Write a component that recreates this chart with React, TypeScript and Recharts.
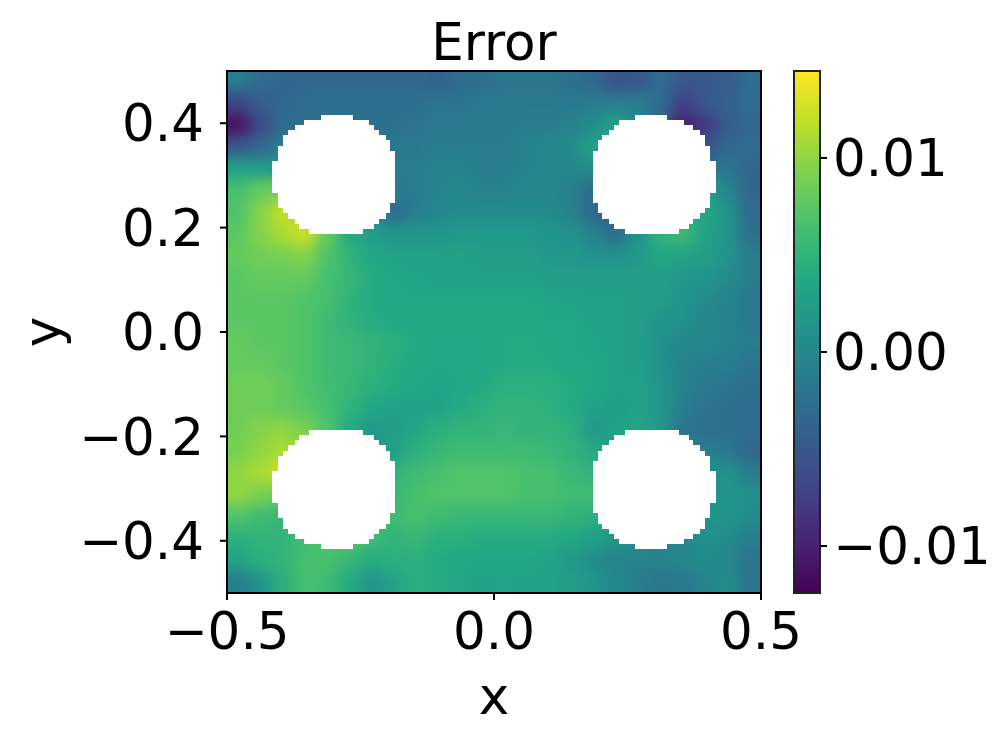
import { ScatterChart, Scatter, XAxis, YAxis, ReferenceArea, Label } from 'recharts'

// error values in units of 1e-3, top row first
const errorRows = [
  [-1, -3, -3.5, -3.5, -3.5, -3.5, -3.5, -3.5, -3.5, -4, -3, -2.5, -2, -2, -2, -2.5, -3.5, -5.5, -5, -3, -5, -5, -4.5, -3],
  [-7, -4.5, -3.5, -3, -2.5, -2.5, -2.5, -2.5, -2.5, -2, -2, -1.5, -1.5, -1.5, -1.5, -1.5, -1, -1, -1, -3, -7.5, -5, -4, -3],
  [-11, -6.5, -3, -3, -2.5, -2.5, -2.5, -2.5, -2, -1.5, -1.5, -1.5, -1.5, -1, -1, -0.5, 0.5, 3, 0, -4, -10, -8, -4.5, -3.5],
  [-5, -3.5, -1, -1, -1, -1.5, -1.5, -1.5, -1.5, -1, -1, -1, -1, -0.5, 0, 0.5, 3, 3, 0, -3, -8, -5.5, -3.5, -3],
  [3, 2.5, 1, 0, 0, -1, -1, -1, -1, -0.5, -0.5, -1, -1, -0.5, 0, 0, 0.5, 0, 0, 0, -3, -2, -2, -3.5],
  [6.5, 8, 9, 6, 3, 0, -1, -1.5, -1, -0.5, 0, -0.5, -0.5, 0, 0, -1, -3, -2, 0, 1, 2, 3, 0, -3.5],
  [7, 9.5, 12, 11, 6, 2, 0, -3, -1, 0, 0.5, 0.5, 0.5, 0.5, 0.5, -0.5, -3.5, -5, -1, 2, 4, 3.5, 1.5, -3],
  [7.5, 9.5, 11, 12.5, 8, 4, 2.5, 1.5, 1.5, 1.5, 2, 2, 2, 2, 1.5, 1, -0.5, -3, 1, 5, 6, 3, 1.5, -2.5],
  [8, 8.5, 9, 9.5, 7, 5, 3.5, 3, 3, 3, 3, 2.5, 2.5, 2.5, 2, 2, 1, 1, 2, 3.5, 3, 2.5, 1.5, -1],
  [7.5, 8, 8, 8, 6.5, 5.5, 4, 3.5, 3.2, 3, 3, 3, 3, 3, 2.5, 2.5, 2.5, 2.5, 2.5, 2.5, 2, 1.5, 0.5, -1],
  [7.5, 7.5, 7.5, 7, 6.5, 5, 4, 3.5, 3.5, 3.5, 3.5, 3.5, 3.5, 3.5, 3.2, 3, 3, 3, 2.5, 2.5, 1.5, 0.5, -0.5, -1.5],
  [7.5, 7.5, 7.5, 7, 6, 5, 4.2, 3.8, 3.8, 3.8, 3.8, 3.8, 3.8, 3.8, 3.5, 3.5, 3, 3, 2.5, 1.5, 1, 0, -0.5, -1.5],
  [8, 7.5, 7.5, 7, 6, 5.5, 5, 4.5, 4, 3.5, 3.5, 3.5, 4, 4, 3.8, 3.5, 3.2, 3, 2.5, 1, 0, 0, -0.5, -1],
  [8, 8, 7.5, 7, 6, 5.5, 5, 4.2, 3.8, 3.5, 3.5, 3.5, 4, 4, 4, 3.5, 3.5, 3, 2.5, 1, -0.5, -1, -1, -2],
  [8.5, 8.5, 8, 7, 6.2, 5.5, 4.5, 4, 3.5, 3.2, 3.5, 4, 4.5, 4.5, 4.5, 4, 3.5, 3, 3, 1.5, -0.5, -1.5, -2, -2.5],
  [8.5, 8.5, 8, 7.5, 6.5, 5, 3.5, 3, 3, 3, 4, 4.5, 5, 5, 4.5, 4, 3, 2.5, 3, 1.5, -1, -2, -2.5, -3],
  [8.5, 9.5, 10, 9, 7, 4, 2, 2.5, 3.5, 4.5, 5, 5, 5.5, 5, 5, 4.5, 2, 3, 3.5, 2, -2, -2.5, -2.5, -3],
  [9, 10, 11, 10, 7, 4, 2, 2.5, 4.5, 5.5, 6, 6, 6, 6, 5.5, 5, 4, 2.5, 2, 1, 0, -1, -1.5, -3.5],
  [10, 11, 12.5, 10, 7, 5, 4, 5, 6, 6.5, 7, 7, 7, 6.5, 6.5, 5.5, 5, 6, 3, 2, 1, 1, 1, -1],
  [10, 9, 8, 8, 7, 6, 5, 5.5, 6.5, 7, 7, 7, 7, 6.5, 6.5, 6, 6, 7, 4, 2, 1, 1, 1.5, 1],
  [7, 6, 5.5, 6, 7, 7, 6, 6, 6.5, 6, 5.5, 5.5, 5.5, 5.5, 5.5, 5, 4.5, 4, 2, 1, 1, 1.5, 1.5, 0.5],
  [4.5, 5, 5, 6, 7, 7.5, 6, 5, 5.5, 4.5, 4.5, 4, 4, 4, 4, 3.5, 2.5, 1.5, 0.5, 0, 0, 1, 0.5, -1],
  [3, 4.5, 5, 6.5, 6.5, 5.5, 4, 4.5, 4.5, 4, 3.5, 3.5, 3.5, 3.5, 3, 2, 0.5, -0.5, -0.5, -0.5, 0, 0.5, 0, -2],
  [-1, 1, 4.5, 6.5, 6, 4, 1.5, 3, 4.5, 4, 3.5, 3, 3.2, 3, 3, 2.5, 1.5, 0, -1, -2, -1.5, -0.5, 0.5, -2],
]

// one hole as [top, bottom, left, right] in data units; the other three are its mirror images
const holeSpans = [
  [0.4157, 0.4061, -0.3246, -0.264],
  [0.4061, 0.3966, -0.3552, -0.2335],
  [0.3966, 0.387, -0.3733, -0.2241],
  [0.387, 0.3774, -0.3851, -0.2147],
  [0.3774, 0.3672, -0.3945, -0.2029],
  [0.3672, 0.357, -0.3945, -0.1941],
  [0.357, 0.3468, -0.4039, -0.1941],
  [0.3468, 0.3276, -0.4039, -0.1848],
  [0.3276, 0.2657, -0.4157, -0.1848],
  [0.2657, 0.2465, -0.4039, -0.1848],
  [0.2465, 0.2369, -0.4039, -0.1941],
  [0.2369, 0.2273, -0.3945, -0.1941],
  [0.2273, 0.2165, -0.3851, -0.2029],
  [0.2165, 0.2063, -0.3733, -0.2147],
  [0.2063, 0.1967, -0.3645, -0.2241],
  [0.1967, 0.1871, -0.3464, -0.2447],
]

const xTicks = [-0.5, 0, 0.5]
const yTicks = [-0.4, -0.2, 0, 0.2, 0.4]
const barTicks = [-0.01, 0, 0.01]
const barMin = -0.01242
const barMax = 0.01448
const viridis = ['#440154', '#482475', '#414487', '#355f8d', '#2a788e', '#21918c', '#22a884', '#44bf70', '#7ad151', '#bddf26', '#fde725']
const plotCorners = [{ x: -0.5, y: -0.5 }, { x: 0.5, y: 0.5 }]
const barCorners = [{ x: 0, y: barMin }, { x: 1, y: barMax }]

const W = 997
const H = 747
const PLOT = { left: 227, right: 761, top: 71, bottom: 593 }
const BAR = { left: 794, right: 820 }
const FONT = 'DejaVu Sans'
const FS = 51.5

const rowCount = errorRows.length
const colCount = errorRows[0].length
const cellW = (PLOT.right - PLOT.left) / colCount
const cellH = (PLOT.bottom - PLOT.top) / rowCount

function colorOf(v: number) {
  const t = Math.max(0, Math.min(1, (v - barMin) / (barMax - barMin))) * (viridis.length - 1)
  const i = Math.min(viridis.length - 2, Math.floor(t))
  const f = t - i
  const a = viridis[i]
  const b = viridis[i + 1]
  const ch = (s: string, k: number) => parseInt(s.slice(1 + k * 2, 3 + k * 2), 16)
  const mix = (k: number) => Math.round(ch(a, k) + (ch(b, k) - ch(a, k)) * f)
  return `rgb(${mix(0)},${mix(1)},${mix(2)})`
}

const cells = errorRows.flatMap((row, r) =>
  row.map((v, c) => ({
    x: -0.5 + (c + 0.5) / colCount,
    y: 0.5 - (r + 0.5) / rowCount,
    value: v / 1000,
    r,
    c,
  }))
)

const holes = [1, -1].flatMap((sy) =>
  [1, -1].flatMap((sx) =>
    holeSpans.map(([top, bottom, left, right]) => ({
      y1: sy > 0 ? bottom : -top,
      y2: sy > 0 ? top : -bottom,
      x1: sx > 0 ? left : -right,
      x2: sx > 0 ? right : -left,
    }))
  )
)

// edge cells run past the frame so the blur has no fade-out there
function HeatCell(props: any) {
  const { cx, cy, payload } = props
  const pad = 40
  const l = cx - cellW / 2 - 0.5 - (payload.c === 0 ? pad : 0)
  const t = cy - cellH / 2 - 0.5 - (payload.r === 0 ? pad : 0)
  const w = cellW + 1 + (payload.c === 0 || payload.c === colCount - 1 ? pad : 0)
  const h = cellH + 1 + (payload.r === 0 || payload.r === rowCount - 1 ? pad : 0)
  return <rect x={l} y={t} width={w} height={h} fill={colorOf(payload.value)} />
}

const noMark = () => null
const fmt1 = (v: number) => v.toFixed(1).replace('-', '\u2212')
const fmt2 = (v: number) => v.toFixed(2).replace('-', '\u2212')
const tickStyle = { fontSize: FS, fontFamily: FONT, fill: '#000' }
const axisStyle = { stroke: '#000', strokeWidth: 2 }
const layer = { position: 'absolute', left: 0, top: 0 } as const

export default function App() {
  return (
    <div style={{ position: 'absolute', left: 0, top: 0, width: W, height: H, background: '#fff' }}>
      <style>{`.heat { filter: blur(7px); clip-path: url(#plotClip); } .holes .recharts-reference-area-rect { shape-rendering: crispEdges; }`}</style>
      {/* heat layer */}
      <div style={layer}>
        <ScatterChart
          width={W}
          height={H}
          margin={{ left: PLOT.left, right: W - PLOT.right, top: PLOT.top, bottom: H - PLOT.bottom }}
        >
          <defs>
            <clipPath id="plotClip">
              <rect x={PLOT.left} y={PLOT.top} width={PLOT.right - PLOT.left} height={PLOT.bottom - PLOT.top} />
            </clipPath>
          </defs>
          <XAxis type="number" dataKey="x" domain={[-0.5, 0.5]} hide />
          <YAxis type="number" dataKey="y" domain={[-0.5, 0.5]} hide />
          <Scatter className="heat" data={cells} shape={HeatCell} isAnimationActive={false} />
        </ScatterChart>
      </div>
      {/* holes, frame, axes */}
      <div style={layer} className="holes">
        <ScatterChart width={W} height={H} margin={{ left: 0, right: W - PLOT.right, top: PLOT.top, bottom: 0 }}>
          <XAxis
            type="number"
            dataKey="x"
            domain={[-0.5, 0.5]}
            ticks={xTicks}
            tickFormatter={fmt1}
            tick={tickStyle}
            tickSize={7}
            tickMargin={12}
            height={H - PLOT.bottom}
            axisLine={axisStyle}
            tickLine={axisStyle}
            interval={0}
          >
            <Label value="x" position="insideTop" offset={84} style={{ fontSize: FS, fontFamily: FONT, fill: '#000' }} />
          </XAxis>
          <YAxis
            type="number"
            dataKey="y"
            domain={[-0.5, 0.5]}
            ticks={yTicks}
            tickFormatter={fmt1}
            tick={tickStyle}
            tickSize={7}
            tickMargin={16}
            width={PLOT.left}
            axisLine={axisStyle}
            tickLine={axisStyle}
            interval={0}
          >
            <Label value="y" angle={-90} position="insideLeft" offset={42} style={{ fontSize: FS, fontFamily: FONT, fill: '#000', textAnchor: 'middle' }} />
          </YAxis>
          <Scatter data={plotCorners} shape={noMark} isAnimationActive={false} />
          {holes.map((h, i) => (
            <ReferenceArea key={i} x1={h.x1} x2={h.x2} y1={h.y1} y2={h.y2} fill="#fff" fillOpacity={1} stroke="none" />
          ))}
          <ReferenceArea x1={-0.5} x2={0.5} y1={-0.5} y2={0.5} fill="none" stroke="#000" strokeWidth={2} />
          <text x={(PLOT.left + PLOT.right) / 2} y={60} textAnchor="middle" fontSize={FS} fontFamily={FONT} fill="#000">
            Error
          </text>
        </ScatterChart>
      </div>
      {/* colorbar */}
      <div style={layer}>
        <ScatterChart width={W} height={H} margin={{ left: BAR.left, right: 0, top: PLOT.top, bottom: H - PLOT.bottom }}>
          <defs>
            <linearGradient id="viridisBar" x1="0" y1="1" x2="0" y2="0">
              {viridis.map((c, i) => (
                <stop key={c} offset={i / (viridis.length - 1)} stopColor={c} />
              ))}
            </linearGradient>
          </defs>
          <XAxis type="number" dataKey="x" domain={[0, 1]} hide />
          <YAxis
            type="number"
            dataKey="y"
            orientation="right"
            domain={[barMin, barMax]}
            ticks={barTicks}
            tickFormatter={fmt2}
            tick={tickStyle}
            tickSize={7}
            tickMargin={6}
            width={W - BAR.right}
            axisLine={false}
            tickLine={axisStyle}
            interval={0}
          />
          <Scatter data={barCorners} shape={noMark} isAnimationActive={false} />
          <ReferenceArea x1={0} x2={1} y1={barMin} y2={barMax} fill="url(#viridisBar)" fillOpacity={1} stroke="#222" strokeWidth={2} />
        </ScatterChart>
      </div>
    </div>
  )
}
